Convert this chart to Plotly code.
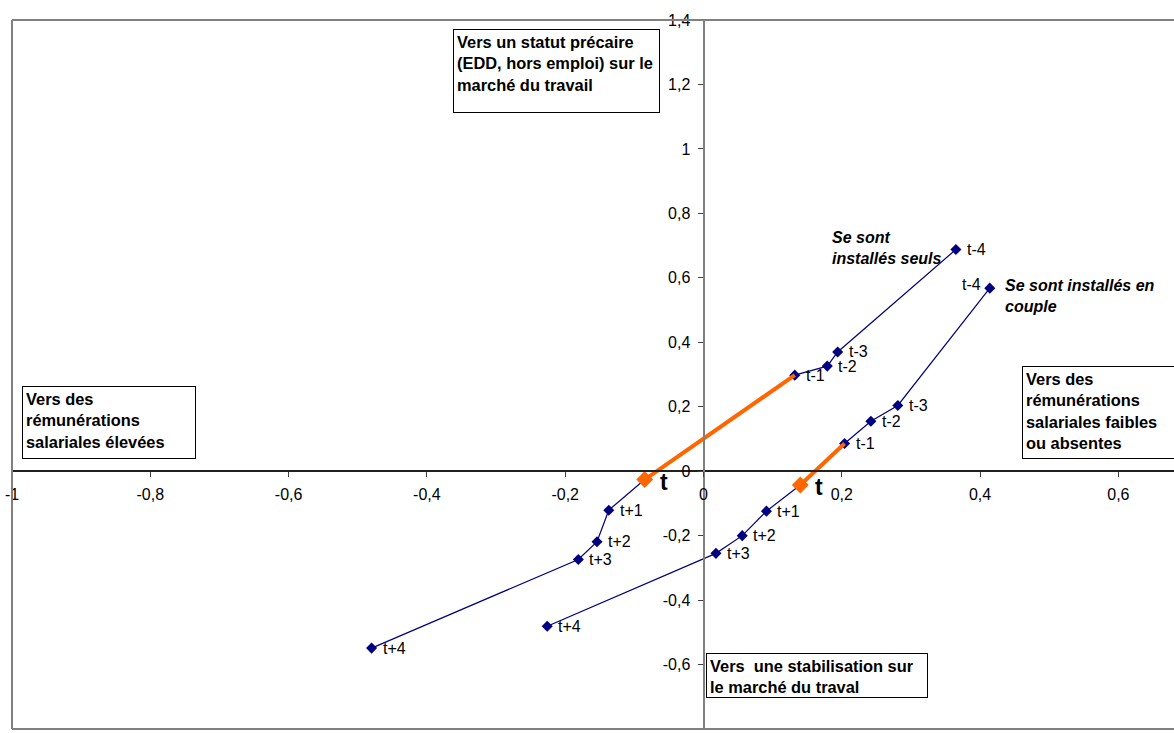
import plotly.graph_objects as go

# Time labels, from four years before the move (t-4) to four years after (t+4)
periods = ["t-4", "t-3", "t-2", "t-1", "t", "t+1", "t+2", "t+3", "t+4"]

# People who moved out alone
alone_x = [0.365, 0.194, 0.179, 0.132, -0.085, -0.137, -0.154, -0.181, -0.480]
alone_y = [0.688, 0.370, 0.326, 0.298, -0.026, -0.121, -0.219, -0.274, -0.549]

# People who moved out as a couple
couple_x = [0.414, 0.281, 0.242, 0.204, 0.140, 0.091, 0.056, 0.018, -0.226]
couple_y = [0.568, 0.204, 0.155, 0.086, -0.043, -0.124, -0.200, -0.255, -0.481]

x_ticks = [-1, -0.8, -0.6, -0.4, -0.2, 0, 0.2, 0.4, 0.6]
x_tick_labels = ["-1", "-0,8", "-0,6", "-0,4", "-0,2", "0", "0,2", "0,4", "0,6"]
y_ticks = [1.4, 1.2, 1, 0.8, 0.6, 0.4, 0.2, 0, -0.2, -0.4, -0.6, -0.8]
y_tick_labels = ["1,4", "1,2", "1", "0,8", "0,6", "0,4", "0,2", "0",
                 "-0,2", "-0,4", "-0,6", "-0,8"]

X_RANGE = [-1, 0.6804]
Y_RANGE = [-0.8, 1.4]

NAVY = "#000080"
ORANGE = "#FF6600"
FONT = "Liberation Sans, Arial, sans-serif"

fig = go.Figure()
annotations = []

for xs, ys, name in [(alone_x, alone_y, "seuls"), (couple_x, couple_y, "couple")]:
    k = periods.index("t")
    # full trajectory
    fig.add_trace(go.Scatter(
        x=xs, y=ys, mode="lines+markers", name=name,
        line=dict(color=NAVY, width=1.2),
        marker=dict(symbol="diamond", size=8.5, color=NAVY),
        showlegend=False, hoverinfo="skip"))
    # the year of the move, highlighted
    fig.add_trace(go.Scatter(
        x=xs[k - 1:k + 1], y=ys[k - 1:k + 1], mode="lines",
        line=dict(color=ORANGE, width=4),
        showlegend=False, hoverinfo="skip"))
    fig.add_trace(go.Scatter(
        x=[xs[k]], y=[ys[k]], mode="markers",
        marker=dict(symbol="diamond", size=13, color=ORANGE),
        showlegend=False, hoverinfo="skip"))
    for i, (px, py, lab) in enumerate(zip(xs, ys, periods)):
        if lab == "t":
            annotations.append(dict(
                x=px, y=py, text="<b>t</b>", showarrow=False,
                xanchor="left", yanchor="middle", xshift=15, yshift=-2,
                font=dict(family=FONT, size=23, color="black"),
                borderpad=0, borderwidth=0))
        elif name == "couple" and lab == "t-4":
            annotations.append(dict(
                x=px, y=py, text=lab, showarrow=False,
                xanchor="right", yanchor="middle", xshift=-9, yshift=4,
                font=dict(family=FONT, size=16, color="black"),
                borderpad=0, borderwidth=0))
        else:
            annotations.append(dict(
                x=px, y=py, text=lab, showarrow=False,
                xanchor="left", yanchor="middle", xshift=11,
                font=dict(family=FONT, size=16, color="black"),
                borderpad=0, borderwidth=0))

# Series captions
annotations.append(dict(
    x=0.184, y=0.755, text="<b><i>Se sont<br>installés seuls</i></b>",
    showarrow=False, xanchor="left", yanchor="top", align="left",
    font=dict(family=FONT, size=16, color="black"), borderpad=0))
annotations.append(dict(
    x=0.435, y=0.607, text="<b><i>Se sont installés en<br>couple</i></b>",
    showarrow=False, xanchor="left", yanchor="top", align="left",
    font=dict(family=FONT, size=16, color="black"), borderpad=0))

# Boxed direction captions
boxes = [
    (-0.362, 1.371, 199, 76, "Vers un statut précaire<br>(EDD, hors emploi) sur le<br>marché du travail"),
    (-0.9857, 0.2647, 166, 65, "Vers des<br>rémunérations<br>salariales élevées"),
    (0.460, 0.3267, 178, 85, "Vers des<br>rémunérations<br>salariales faibles<br>ou absentes"),
    (0.0036, -0.5638, 214, 37, "Vers  une stabilisation sur<br>le marché du traval"),
]
for bx, by, bw, bh, txt in boxes:
    annotations.append(dict(
        x=bx, y=by, text="<b>" + txt + "</b>", showarrow=False,
        xanchor="left", yanchor="top", align="left", valign="top",
        width=bw, height=bh, bgcolor="white",
        bordercolor="black", borderwidth=1, borderpad=3,
        font=dict(family=FONT, size=16.4, color="black")))

# Chart frame (top, left, bottom)
frame = dict(type="line", xref="paper", yref="paper",
             line=dict(color="#808080", width=2), layer="above")
shapes = [
    dict(frame, x0=0, x1=1, y0=1, y1=1),
    dict(frame, x0=0, x1=0, y0=0, y1=1),
    dict(frame, x0=0, x1=1, y0=0, y1=0),
]

x_pos = (0 - Y_RANGE[0]) / (Y_RANGE[1] - Y_RANGE[0])
y_pos = (0 - X_RANGE[0]) / (X_RANGE[1] - X_RANGE[0])

fig.update_layout(
    width=1174, height=733,
    margin=dict(l=12, r=0, t=20, b=4),
    paper_bgcolor="white", plot_bgcolor="white",
    font=dict(family=FONT, size=16, color="black"),
    annotations=annotations, shapes=shapes,
    xaxis=dict(range=X_RANGE, anchor="free", position=x_pos,
               showgrid=False, zeroline=False,
               showline=True, linecolor="#202020", linewidth=1.5,
               ticks="outside", ticklen=5, tickcolor="#404040",
               tickvals=x_ticks, ticktext=x_tick_labels,
               ticklabelstandoff=4,
               tickfont=dict(family=FONT, size=16, color="black")),
    yaxis=dict(range=Y_RANGE, anchor="free", position=y_pos,
               showgrid=False, zeroline=False,
               showline=True, linecolor="#808080", linewidth=2,
               ticks="outside", ticklen=5, tickcolor="#404040",
               tickvals=y_ticks, ticktext=y_tick_labels,
               ticklabelstandoff=4,
               tickfont=dict(family=FONT, size=16, color="black")),
)

fig.write_html("out.html")
